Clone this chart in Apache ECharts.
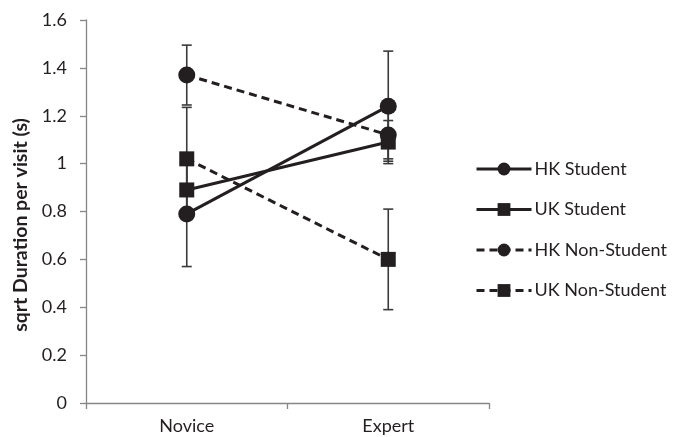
<!DOCTYPE html>
<html>
<head>
<meta charset="utf-8">
<script src="https://cdn.jsdelivr.net/npm/echarts@6/dist/echarts.min.js"></script>
<style>
  html, body { margin: 0; padding: 0; background: #fff; }
  #chart { width: 674px; height: 437px; }
</style>
</head>
<body>
<div id="chart"></div>
<script>
// Expertise groups on the x axis
const categories = ['Novice', 'Expert'];

// Mean sqrt duration per visit (s) for each group
const hkStudent = [0.79, 1.24];
const ukStudent = [0.89, 1.09];
const hkNonStudent = [1.37, 1.12];
const ukNonStudent = [1.02, 0.60];

// Half-width of each error bar
const hkStudentErr = [0.22, 0.23];
const ukStudentErr = [0.12, 0.09];
const hkNonStudentErr = [0.125, 0.10];
const ukNonStudentErr = [0.215, 0.21];

// Value axis ticks
const yMin = 0, yMax = 1.6, yStep = 0.2;

const ink = '#231f20';
const axisGrey = '#868686';
const font = 'Lato';

const chart = echarts.init(document.getElementById('chart'));

function lineSeries(name, values, symbol, dashed) {
  return {
    name: name,
    type: 'line',
    data: values,
    symbol: symbol,
    symbolSize: symbol === 'rect' ? 15 : 17,
    z: 3,
    itemStyle: { color: ink },
    lineStyle: { color: ink, width: 3, type: dashed ? [8, 5] : 'solid' },
    emphasis: { disabled: true },
    animation: false
  };
}

function errorSeries(means, errs) {
  const data = means.map((m, i) => [i, m - errs[i], m + errs[i]]);
  return {
    type: 'custom',
    z: 2,
    silent: true,
    animation: false,
    data: data,
    renderItem: function (params, api) {
      const x = api.value(0);
      const lo = api.coord([x, api.value(1)]);
      const hi = api.coord([x, api.value(2)]);
      const cap = 5;
      const style = { stroke: '#3a3a3a', lineWidth: 1.6 };
      return {
        type: 'group',
        children: [
          { type: 'line', shape: { x1: lo[0], y1: lo[1], x2: hi[0], y2: hi[1] }, style: style },
          { type: 'line', shape: { x1: lo[0] - cap, y1: lo[1], x2: lo[0] + cap, y2: lo[1] }, style: style },
          { type: 'line', shape: { x1: hi[0] - cap, y1: hi[1], x2: hi[0] + cap, y2: hi[1] }, style: style }
        ]
      };
    }
  };
}

chart.setOption({
  backgroundColor: '#fff',
  animation: false,
  grid: { left: 86, top: 20, right: 185, bottom: 34, containLabel: false },
  legend: {
    orient: 'vertical',
    left: 470,
    top: 155,
    itemWidth: 55,
    itemHeight: 16,
    itemGap: 22.5,
    lineStyle: { width: 3 },
    textStyle: { fontFamily: font, fontSize: 18, color: ink, padding: [0, 0, 0, -2] },
    data: ['HK Student', 'UK Student', 'HK Non-Student', 'UK Non-Student']
  },
  xAxis: {
    type: 'category',
    data: categories,
    boundaryGap: true,
    axisLine: { lineStyle: { color: axisGrey, width: 1.3 } },
    axisTick: { show: true, length: 6, lineStyle: { color: axisGrey, width: 1.3 } },
    axisLabel: { fontFamily: font, fontSize: 18, color: ink, margin: 14 }
  },
  yAxis: {
    type: 'value',
    min: yMin,
    max: yMax,
    interval: yStep,
    name: 'sqrt Duration per visit (s)',
    nameLocation: 'middle',
    nameGap: 54,
    nameTextStyle: { fontFamily: font, fontSize: 19.5, fontWeight: 'bold', color: ink, padding: [0, 27, 0, 0] },
    axisLine: { show: true, lineStyle: { color: axisGrey, width: 1.3 } },
    axisTick: { show: true, length: 6, lineStyle: { color: axisGrey, width: 1.3 } },
    splitLine: { show: false },
    axisLabel: { fontFamily: font, fontSize: 18, color: ink, margin: 19 }
  },
  series: [
    errorSeries(hkStudent, hkStudentErr),
    errorSeries(ukStudent, ukStudentErr),
    errorSeries(hkNonStudent, hkNonStudentErr),
    errorSeries(ukNonStudent, ukNonStudentErr),
    lineSeries('HK Student', hkStudent, 'circle', false),
    lineSeries('UK Student', ukStudent, 'rect', false),
    lineSeries('HK Non-Student', hkNonStudent, 'circle', true),
    lineSeries('UK Non-Student', ukNonStudent, 'rect', true)
  ]
});
</script>
</body>
</html>
